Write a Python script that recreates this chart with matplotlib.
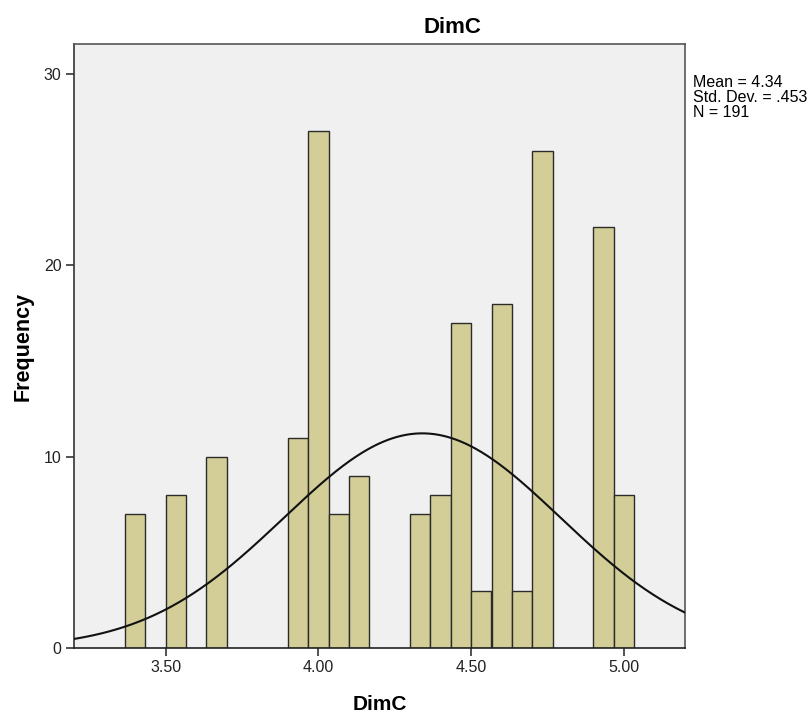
import numpy as np
import matplotlib
matplotlib.use("Agg")
import matplotlib.pyplot as plt

plt.rcParams['font.family'] = ['Liberation Sans', 'DejaVu Sans']

# histogram bins (centres) and counts
bin_centers = [3.400, 3.533, 3.667, 3.933, 4.000, 4.067, 4.133, 4.333,
               4.400, 4.467, 4.533, 4.600, 4.667, 4.733, 4.933, 5.000]
counts = [7, 8, 10, 11, 27, 7, 9, 7, 8, 17, 3, 18, 3, 26, 22, 8]
bin_width = 0.0667

mean_val = 4.34
sd_val = 0.453
n_val = 191

xticks = [3.5, 4.0, 4.5, 5.0]
xtick_labels = ['3.50', '4.00', '4.50', '5.00']
yticks = [0, 10, 20, 30]

W, H = 811, 713
fig = plt.figure(figsize=(W/100, H/100), dpi=100)
ax = fig.add_axes([74/W, 1 - 648/H, (685 - 74)/W, (648 - 44)/H])
ax.set_facecolor('#F0F0F0')

ax.bar(bin_centers, counts, width=bin_width, color='#D3CE97',
       edgecolor='#2b2b2b', linewidth=1.0, zorder=2)

# normal curve scaled to counts
xs = np.linspace(3.2, 5.2, 400)
ys = n_val * bin_width * np.exp(-0.5 * ((xs - mean_val) / sd_val) ** 2) / (sd_val * np.sqrt(2 * np.pi))
ax.plot(xs, ys, color='#111111', linewidth=1.5, zorder=3)

ax.set_xlim(3.2, 5.2)
ax.set_ylim(0, 31.57)
ax.set_xticks(xticks)
ax.set_xticklabels(xtick_labels)
ax.set_yticks(yticks)
ax.tick_params(axis='both', direction='out', length=6, width=1.2, color='#333333',
               labelsize=11.5, labelcolor='#222222', pad=3)
ax.tick_params(top=False, right=False)
for s in ax.spines.values():
    s.set_color('#555555')
    s.set_linewidth(1.2)
ax.spines['bottom'].set_color('#222222')
ax.spines['left'].set_color('#333333')

# title / axis labels placed like the SPSS output
fig.text(452/W, 1 - 33/H, 'DimC', fontsize=16, fontweight='bold',
         ha='center', va='baseline')
fig.text(380/W, 1 - 710/H, 'DimC', fontsize=15, fontweight='bold',
         ha='center', va='baseline')
fig.text(23/W, 1 - 346/H, 'Frequency', fontsize=15.5, fontweight='bold',
         ha='center', va='center', rotation=90)

fig.text(693/W, 1 - 75/H,
         'Mean = 4.34\nStd. Dev. = .453\nN = %d' % n_val,
         fontsize=11.5, va='top', ha='left', linespacing=1.0)

fig.savefig('out.png', dpi=100)
